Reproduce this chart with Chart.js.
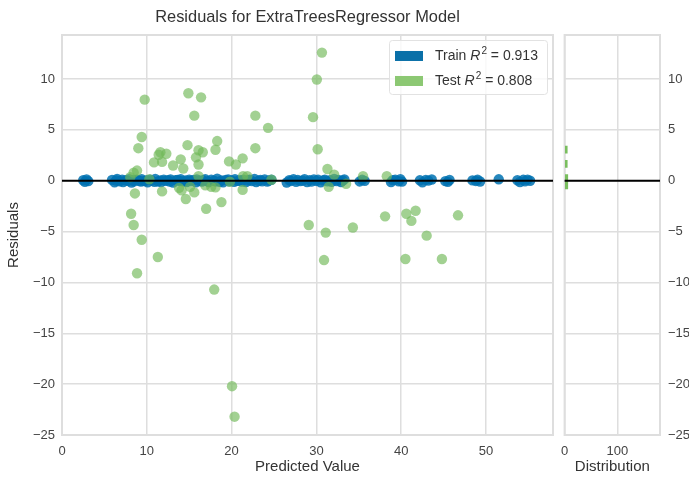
<!DOCTYPE html>
<html>
<head>
<meta charset="utf-8">
<script src="https://cdn.jsdelivr.net/npm/chart.js@4/dist/chart.umd.min.js"></script>
<style>
  html, body { margin: 0; padding: 0; background: #fff; overflow: hidden; }
  #wrap { position: relative; width: 689px; height: 479px; overflow: hidden; }
  #main { position: absolute; left: 0; top: 0; }
  #dist { position: absolute; left: 552px; top: 0; }
</style>
</head>
<body>
<div id="wrap">
  <canvas id="main" width="560" height="479"></canvas>
  <canvas id="dist" width="148" height="479"></canvas>
</div>
<script>
// residuals of the training set (predicted value, residual)
const trainX = [
  2.5, 2.7, 2.9, 3.1,
  5.9, 6.2, 6.4, 6.5, 6.8, 7.1, 7.2, 7.5, 7.8, 7.9,
  8.2, 8.4, 8.5, 8.8, 9.1, 9.3, 9.4, 9.7, 10.0, 10.1,
  10.4, 10.6, 10.9, 11.0, 11.3, 11.6, 11.7, 12.0, 12.2, 12.5,
  12.7, 12.8, 13.1, 13.4, 13.6, 13.9, 14.0, 14.3, 14.6, 14.7,
  15.0, 15.2, 15.5, 15.8, 15.9, 16.2, 16.5, 16.6, 16.9, 17.2,
  17.3, 17.6, 17.9, 18.1, 18.3, 18.6, 18.8, 19.0, 19.3, 19.6,
  19.7, 20.0, 20.3, 20.4, 20.7, 21.0, 21.2, 21.4, 21.7, 22.0,
  22.1, 22.4, 22.7, 22.9, 23.2, 23.4, 23.6, 23.9, 24.2, 24.4, 24.7,
  26.5, 26.8, 27.0, 27.3, 27.6, 27.8, 28.1, 28.4, 28.6, 28.9,
  29.2, 29.4, 29.7, 30.0, 30.2, 30.5, 30.8, 31.0, 31.3, 31.6,
  31.8, 32.1, 32.4, 32.6, 32.9, 33.1, 33.3,
  35.1, 35.4, 35.7,
  38.8, 39.0, 39.3, 39.7, 39.9, 40.1,
  42.2, 42.5, 42.9, 43.2, 43.6,
  45.2, 45.5, 45.7,
  48.4, 48.8, 49.0, 49.3,
  51.5,
  53.7, 54.0, 54.4, 54.6, 54.9, 55.2
];
const trainY = [
  0.05, -0.10, 0.12, -0.04, 0.08, -0.15, 0.02, 0.18, -0.06, 0.10,
  -0.12, 0.04, -0.02, 0.15, -0.18, 0.07, -0.05, 0.11, 0.00, -0.09,
  0.14, -0.03, 0.06, -0.16, 0.09, 0.01, -0.11, 0.17, -0.07, 0.03,
  -0.14, 0.10, -0.01, 0.06, -0.08, 0.13, -0.19, 0.04, 0.08, -0.03,
  0.16, -0.06, 0.02, -0.12, 0.11, -0.02, 0.07, -0.15, 0.12, 0.00,
  -0.09, 0.05, 0.14, -0.04, -0.13, 0.09, 0.01, -0.07, 0.19, -0.10,
  0.03, -0.16, 0.08, 0.12, -0.05, 0.02, -0.11, 0.15, -0.01, 0.06,
  -0.08, 0.11, -0.14, 0.04, 0.09, -0.03, 0.17, -0.12, 0.00, 0.07,
  -0.06, 0.13, -0.09, 0.02, 0.10, -0.17, 0.05, -0.02, 0.14, -0.11,
  0.08, -0.04, 0.01, 0.16, -0.13, 0.06, -0.08, 0.12, -0.02, 0.09,
  -0.15, 0.03, 0.11, -0.06, 0.05, -0.10, 0.18, -0.03, 0.07, -0.12,
  0.02, 0.13, -0.07, 0.09, -0.01, -0.14, 0.06, 0.10, -0.05, 0.15,
  -0.09, 0.04, -0.16, 0.08, 0.01, 0.12, -0.04, -0.11, 0.07, 0.03,
  -0.02, 0.10, -0.08, 0.14, 0.05, -0.12, 0.09, -0.06, 0.11, 0.00
];

// residuals of the test set
const testX = [
  9.75, 14.9, 16.4, 15.6, 22.8, 24.3, 29.6, 30.65, 30.05, 30.15,
  9.4, 9.0, 18.3, 18.1, 14.8, 22.8, 11.6, 12.3, 11.4, 16.1,
  16.6, 15.8, 14.0, 10.85, 11.8, 13.1, 14.3, 16.1, 19.7, 20.5,
  21.3, 8.85, 8.45, 8.05, 16.1, 10.3, 21.35, 21.85, 24.7, 31.3,
  32.1, 35.5, 38.3,
  8.6, 11.8, 13.8, 14.1, 14.6, 15.6, 17.0, 18.8, 17.6, 18.1,
  21.3, 16.9, 15.1, 19.8, 31.45, 33.5, 8.15, 8.45, 9.4, 11.3,
  8.85, 17.95, 20.05, 20.35, 29.1, 31.1, 30.9, 34.3, 38.1, 40.6,
  41.7, 41.2, 43.0, 46.7, 40.5, 44.8
];
const testY = [
  7.97, 8.6, 8.2, 6.4, 6.4, 5.2, 6.25, 12.6, 9.95, 3.1,
  4.3, 3.2, 3.9, 3.05, 3.5, 3.2, 2.8, 2.65, 2.55, 3.0,
  2.8, 2.3, 2.1, 1.8, 1.85, 1.5, 1.2, 1.6, 1.9, 1.6,
  2.2, 1.0, 0.8, 0.35, 0.45, 0.15, 0.45, 0.45, 0.1, 1.15,
  0.6, 0.45, 0.45,
  -1.25, -1.05, -0.7, -0.95, -1.8, -1.15, -2.75, -2.1, -0.6, -0.65,
  -0.9, -0.45, -0.6, -0.1, -0.6, -0.3, -3.25, -4.35, -5.8, -7.5,
  -9.1, -10.7, -20.2, -23.2, -4.35, -5.1, -7.8, -4.6, -3.5, -3.25,
  -2.95, -3.95, -5.4, -3.4, -7.7, -7.7
];

const trainR2 = 0.913;
const testR2 = 0.808;

// test residual histogram (bin centre, count)
const distBins = [3.05, 1.65, 0.25, -0.45];
const distCounts = [5, 5, 6, 6];

const trainColor = 'rgba(0, 114, 178, 0.85)';
const testColor = 'rgba(112, 184, 88, 0.65)';
const gridColor = '#dedede';
const tickColor = '#444';
const labelColor = '#333';
const font = '"Liberation Sans", Arial, sans-serif';

Chart.defaults.font.family = font;
Chart.defaults.color = tickColor;

const minus = v => String(v).replace('-', '\u2212');

// light frame round the plot area
const frame = {
  id: 'frame',
  beforeDatasetsDraw(chart) {
    const a = chart.chartArea, ctx = chart.ctx;
    ctx.save();
    ctx.strokeStyle = gridColor;
    ctx.lineWidth = 2;
    ctx.strokeRect(a.left, a.top, a.right - a.left, a.bottom - a.top);
    ctx.restore();
  }
};

// black line at zero residual
const zeroLine = {
  id: 'zeroLine',
  afterDatasetsDraw(chart) {
    const a = chart.chartArea, ctx = chart.ctx;
    const y = chart.scales.y.getPixelForValue(0);
    ctx.save();
    ctx.strokeStyle = '#000';
    ctx.lineWidth = 2;
    ctx.beginPath();
    ctx.moveTo(a.left, y);
    ctx.lineTo(a.right, y);
    ctx.stroke();
    ctx.restore();
  }
};

// legend box with the R^2 scores
const r2Legend = {
  id: 'r2Legend',
  afterDraw(chart) {
    const a = chart.chartArea, ctx = chart.ctx;
    const w = 158, h = 54;
    const left = a.right - w - 6, top = a.top + 5;
    ctx.save();
    ctx.fillStyle = 'rgba(255,255,255,0.8)';
    ctx.strokeStyle = '#e2e2e2';
    ctx.lineWidth = 1;
    ctx.beginPath();
    ctx.roundRect(left + 0.5, top + 0.5, w, h, 3);
    ctx.fill();
    ctx.stroke();
    const rows = [['rgb(10, 112, 168)', 'Train', trainR2], ['rgb(140, 200, 115)', 'Test', testR2]];
    rows.forEach(([color, name, r2], i) => {
      const cy = top + 16 + i * 25;
      ctx.fillStyle = color;
      ctx.fillRect(left + 6, cy - 5, 28, 10);
      let tx = left + 46;
      ctx.fillStyle = labelColor;
      ctx.textBaseline = 'middle';
      ctx.font = '14px ' + font;
      ctx.fillText(name + ' ', tx, cy);
      tx += ctx.measureText(name + ' ').width;
      ctx.font = 'italic 14px ' + font;
      ctx.fillText('R', tx, cy);
      tx += ctx.measureText('R').width + 1;
      ctx.font = '10px ' + font;
      ctx.fillText('2', tx, cy - 5);
      tx += ctx.measureText('2').width;
      ctx.font = '14px ' + font;
      ctx.fillText(' = ' + r2.toFixed(3), tx, cy);
    });
    ctx.restore();
  }
};

new Chart(document.getElementById('main'), {
  type: 'scatter',
  data: {
    datasets: [
      {
        label: 'Test',
        data: testX.map((x, i) => ({ x, y: testY[i] })),
        backgroundColor: testColor,
        borderWidth: 0,
        pointRadius: 5.2,
        order: 1
      },
      {
        label: 'Train',
        data: trainX.map((x, i) => ({ x, y: trainY[i] })),
        backgroundColor: trainColor,
        borderWidth: 0,
        pointRadius: 5.2,
        order: 2
      }
    ]
  },
  options: {
    responsive: false,
    animation: false,
    layout: { padding: { left: 0, right: 7, top: 0, bottom: 0 } },
    plugins: {
      legend: { display: false },
      tooltip: { enabled: false },
      title: {
        display: true,
        fullSize: false,
        text: 'Residuals for ExtraTreesRegressor Model',
        color: labelColor,
        font: { size: 16.4, weight: 'normal' },
        padding: { top: 8, bottom: 7.3 }
      }
    },
    scales: {
      x: {
        type: 'linear', min: 0, max: 57.9,
        afterFit(s) { s.height = 44; },
        grid: { color: gridColor, lineWidth: 1.5, drawTicks: false },
        border: { display: false },
        ticks: { stepSize: 10, includeBounds: false, padding: 9, color: tickColor, font: { size: 13 } },
        title: { display: true, text: 'Predicted Value', color: labelColor, font: { size: 15 }, padding: { top: 0, bottom: 3 } }
      },
      y: {
        type: 'linear', min: -25, max: 14.33,
        afterFit(s) { s.width = 62; },
        grid: { color: gridColor, lineWidth: 1.5, drawTicks: false },
        border: { display: false },
        ticks: { stepSize: 5, includeBounds: false, padding: 7, color: tickColor, font: { size: 13 }, callback: minus },
        title: { display: true, text: 'Residuals', color: labelColor, font: { size: 15 }, padding: { top: 5, bottom: 0 } }
      }
    }
  },
  plugins: [frame, zeroLine, r2Legend]
});

new Chart(document.getElementById('dist'), {
  type: 'bar',
  data: {
    datasets: [{
      label: 'Test',
      data: distBins.map((b, i) => ({ x: distCounts[i], y: b })),
      backgroundColor: 'rgba(106, 184, 76, 0.9)',
      barPercentage: 1,
      categoryPercentage: 1
    }]
  },
  options: {
    indexAxis: 'y',
    responsive: false,
    animation: false,
    layout: { padding: { left: 6, right: 0, top: 35, bottom: 0 } },
    plugins: { legend: { display: false }, tooltip: { enabled: false } },
    scales: {
      x: {
        type: 'linear', min: 0, max: 181,
        afterFit(s) { s.height = 44; },
        grid: { color: gridColor, lineWidth: 1.5, drawTicks: false },
        border: { display: false },
        ticks: { stepSize: 100, includeBounds: false, padding: 9, color: tickColor, font: { size: 13 } },
        title: { display: true, text: 'Distribution', color: labelColor, font: { size: 15 }, padding: { top: 0, bottom: 3 } }
      },
      y: {
        type: 'linear', position: 'right', min: -25, max: 14.33,
        offset: false,
        afterFit(s) { s.width = 40; },
        grid: { color: gridColor, lineWidth: 1.5, drawTicks: false, offset: false },
        border: { display: false },
        ticks: { stepSize: 5, includeBounds: false, padding: 8, color: tickColor, font: { size: 13 }, callback: minus }
      }
    }
  },
  plugins: [frame, zeroLine]
});
</script>
</body>
</html>
